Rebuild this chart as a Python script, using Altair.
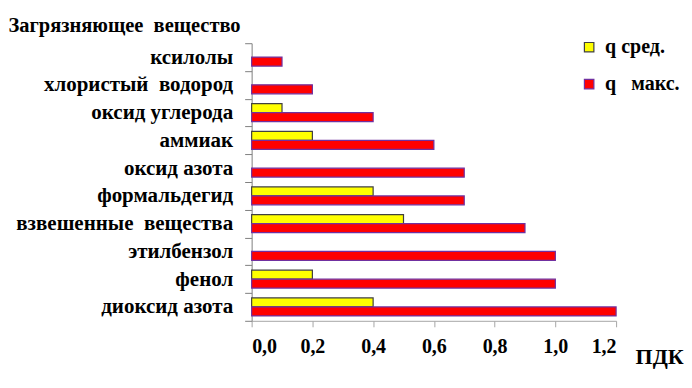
import altair as alt
import pandas as pd

substances = ["ксилолы", "хлористый  водород", "оксид углерода", "аммиак", "оксид азота",
              "формальдегид", "взвешенные  вещества", "этилбензол", "фенол", "диоксид азота"]
q_avg = [None, None, 0.1, 0.2, None, 0.4, 0.5, None, 0.2, 0.4]
q_max = [0.1, 0.2, 0.4, 0.6, 0.7, 0.7, 0.9, 1.0, 1.0, 1.2]
series = ["q сред.", "q\u00a0\u00a0 макс."]
fills = ["#FFFF00", "#FF0000"]
strokes = ["#404040", "#7030A0"]
x_ticks = [0.0, 0.2, 0.4, 0.6, 0.8, 1.0, 1.2]

rows = []
for s, a, m in zip(substances, q_avg, q_max):
    if a is not None:
        rows.append({"substance": s.replace("  ", "\u00a0 "), "series": series[0], "value": a})
    rows.append({"substance": s.replace("  ", "\u00a0 "), "series": series[1], "value": m})
df = pd.DataFrame(rows)
order = [s.replace("  ", "\u00a0 ") for s in substances]

FONT = "Liberation Serif, serif"

legend_kw = dict(
    orient="none", legendX=328, legendY=-6, title=None, symbolType="square",
    symbolSize=90, symbolStrokeWidth=1.2, labelFont=FONT, labelFontSize=20,
    labelFontWeight="bold", labelColor="black", rowPadding=17, labelOffset=6,
)

chart = alt.Chart(df).mark_bar(strokeWidth=1.2).encode(
    y=alt.Y("substance:N", sort=order,
            scale=alt.Scale(paddingInner=0, paddingOuter=0),
            axis=alt.Axis(title="Загрязняющее\u00a0 вещество", titleAngle=0, titleAlign="left",
                          titleBaseline="alphabetic", titleX=-244, titleY=-12,
                          titleFont=FONT, titleFontSize=20.5, titleFontWeight="bold", titleColor="black",
                          tickBand="extent", tickSize=7, tickColor="#808080", domainColor="#808080",
                          labelFont=FONT, labelFontSize=21, labelFontWeight="bold", labelColor="black",
                          labelPadding=12, labelLimit=400)),
    yOffset=alt.YOffset("series:N", sort=series,
                        scale=alt.Scale(domain=series, paddingInner=0, paddingOuter=0.55)),
    x=alt.X("value:Q", scale=alt.Scale(domain=[0, 1.2], nice=False),
            axis=alt.Axis(values=x_ticks, grid=False, title="ПДК", titleX=384, titleY=43,
                          titleAlign="left", titleBaseline="alphabetic",
                          titleFont=FONT, titleFontSize=22, titleFontWeight="bold", titleColor="black",
                          labelExpr="replace(format(datum.value, '.1f'), '.', ',')",
                          labelFont=FONT, labelFontSize=20, labelFontWeight="bold", labelColor="black",
                          labelPadding=10, tickSize=6, tickColor="#A6A6A6", domainColor="#A6A6A6")),
    fill=alt.Fill("series:N", sort=series, scale=alt.Scale(domain=series, range=fills),
                  legend=alt.Legend(**legend_kw)),
    stroke=alt.Stroke("series:N", sort=series, scale=alt.Scale(domain=series, range=strokes),
                      legend=alt.Legend(**legend_kw)),
).properties(
    width=365, height=278,
    autosize=alt.AutoSizeParams(type="none"),
    padding={"left": 244, "top": 35, "right": 68, "bottom": 50},
).configure(font=FONT).configure_view(stroke=None)

chart.save("out.html", embed_options={"renderer": "svg", "actions": False})
